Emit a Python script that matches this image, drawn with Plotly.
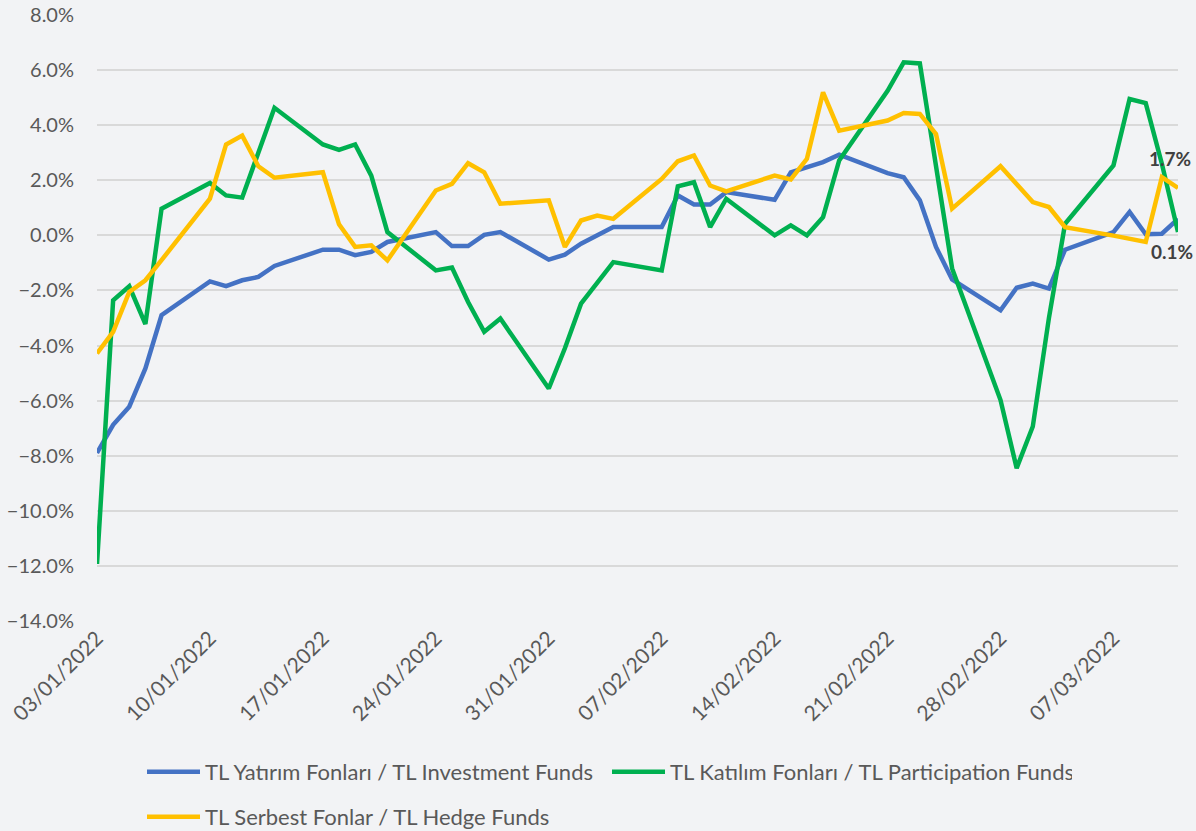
import plotly.graph_objects as go

dates = [
    "2022-01-03", "2022-01-04", "2022-01-05", "2022-01-06", "2022-01-07",
    "2022-01-10", "2022-01-11", "2022-01-12", "2022-01-13", "2022-01-14",
    "2022-01-17", "2022-01-18", "2022-01-19", "2022-01-20", "2022-01-21",
    "2022-01-24", "2022-01-25", "2022-01-26", "2022-01-27", "2022-01-28",
    "2022-01-31", "2022-02-01", "2022-02-02", "2022-02-03", "2022-02-04",
    "2022-02-07", "2022-02-08", "2022-02-09", "2022-02-10", "2022-02-11",
    "2022-02-14", "2022-02-15", "2022-02-16", "2022-02-17", "2022-02-18",
    "2022-02-21", "2022-02-22", "2022-02-23", "2022-02-24", "2022-02-25",
    "2022-02-28", "2022-03-01", "2022-03-02", "2022-03-03", "2022-03-04",
    "2022-03-07", "2022-03-08", "2022-03-09", "2022-03-10", "2022-03-11",
]

investment = [
    -7.90, -6.88, -6.22, -4.83, -2.90,
    -1.67, -1.84, -1.63, -1.51, -1.11,
    -0.52, -0.52, -0.72, -0.60, -0.24,
    0.12, -0.39, -0.39, 0.02, 0.12,
    -0.88, -0.70, -0.30, 0.00, 0.30,
    0.30, 1.45, 1.12, 1.12, 1.57,
    1.29, 2.29, 2.48, 2.66, 2.93,
    2.26, 2.11, 1.27, -0.42, -1.60,
    -2.72, -1.90, -1.75, -1.93, -0.52,
    0.12, 0.85, 0.04, 0.06, 0.60,
]

participation = [
    -11.93, -2.36, -1.85, -3.22, 0.97,
    1.90, 1.45, 1.37, 3.00, 4.63,
    3.30, 3.10, 3.30, 2.17, 0.12,
    -1.27, -1.17, -2.42, -3.50, -3.02,
    -5.56, -4.10, -2.48, -1.75, -0.97,
    -1.27, 1.78, 1.93, 0.30, 1.33,
    0.00, 0.36, 0.00, 0.66, 2.72,
    5.25, 6.28, 6.24, 2.60, -1.20,
    -5.98, -8.45, -6.94, -3.00, 0.42,
    2.54, 4.95, 4.80, 2.60, 0.12,
]

hedge = [
    -4.29, -3.50, -2.05, -1.63, -0.90,
    1.33, 3.30, 3.62, 2.51, 2.09,
    2.29, 0.40, -0.42, -0.36, -0.91,
    1.63, 1.87, 2.62, 2.29, 1.15,
    1.27, -0.42, 0.54, 0.72, 0.60,
    2.05, 2.69, 2.90, 1.81, 1.60,
    2.17, 2.03, 2.78, 5.19, 3.80,
    4.17, 4.44, 4.41, 3.68, 0.97,
    2.51, 1.85, 1.21, 1.03, 0.30,
    -0.01, -0.12, -0.24, 2.11, 1.72,
]

names = [
    "TL Yatırım Fonları / TL Investment Funds",
    "TL Katılım Fonları / TL Participation Funds",
    "TL Serbest Fonlar / TL Hedge Funds",
]
colors = ["#4472C4", "#00B050", "#FFC000"]

tick_dates = ["2022-01-03", "2022-01-10", "2022-01-17", "2022-01-24", "2022-01-31",
              "2022-02-07", "2022-02-14", "2022-02-21", "2022-02-28", "2022-03-07"]
y_ticks = [-14, -12, -10, -8, -6, -4, -2, 0, 2, 4, 6, 8]

FONT = "Lato"
TXT = "#595959"

fig = go.Figure()
series = [investment, participation, hedge]
legends = ["legend", "legend", "legend2"]
for vals, name, col, lg in zip(series, names, colors, legends):
    fig.add_trace(go.Scatter(
        x=dates, y=[v / 100 for v in vals], mode="lines", name=name,
        line=dict(color=col, width=4.5), legend=lg,
    ))

fig.add_annotation(x=dates[-1], y=hedge[-1] / 100, text="<b>%.1f%%</b>" % hedge[-1],
                   showarrow=False, yshift=29, xshift=-8,
                   font=dict(family=FONT, size=19, color="#404040"))
fig.add_annotation(x=dates[-1], y=participation[-1] / 100, text="<b>%.1f%%</b>" % participation[-1],
                   showarrow=False, yshift=-19, xshift=-6,
                   font=dict(family=FONT, size=19, color="#404040"))

fig.update_layout(
    width=1196, height=831,
    margin=dict(l=97, r=18, t=15, b=210, autoexpand=False),
    paper_bgcolor="#F2F3F5", plot_bgcolor="#F2F3F5",
    font=dict(family=FONT, size=18, color=TXT),
    xaxis=dict(
        type="date", range=["2022-01-03", "2022-03-11"],
        tickvals=tick_dates, tickformat="%d/%m/%Y", tickangle=-45,
        showgrid=False, zeroline=False, showline=False, ticks="",
        automargin=False,
        tickfont=dict(family=FONT, size=21, color=TXT),
    ),
    yaxis=dict(
        range=[-0.14, 0.08], tickvals=[v / 100 for v in y_ticks], tickformat=".1%",
        showgrid=True, gridcolor="#D9D9D9", gridwidth=1.5,
        zeroline=False, showline=False, ticks="", ticklabelstandoff=22,
        automargin=False,
        tickfont=dict(family=FONT, size=20, color=TXT),
    ),
    legend=dict(
        orientation="h", xref="container", yref="container",
        x=142 / 1196, y=1 - 772 / 831, xanchor="left", yanchor="middle",
        bgcolor="rgba(0,0,0,0)", entrywidth=397, itemwidth=53,
        font=dict(family=FONT, size=22, color=TXT),
    ),
    legend2=dict(
        orientation="h", xref="container", yref="container",
        x=142 / 1196, y=1 - 817 / 831, xanchor="left", yanchor="middle",
        bgcolor="rgba(0,0,0,0)", itemwidth=53,
        font=dict(family=FONT, size=22, color=TXT),
    ),
    showlegend=True,
)

fig.write_html("out.html", config={"displayModeBar": False},
               post_script="document.body.style.margin='0';")
